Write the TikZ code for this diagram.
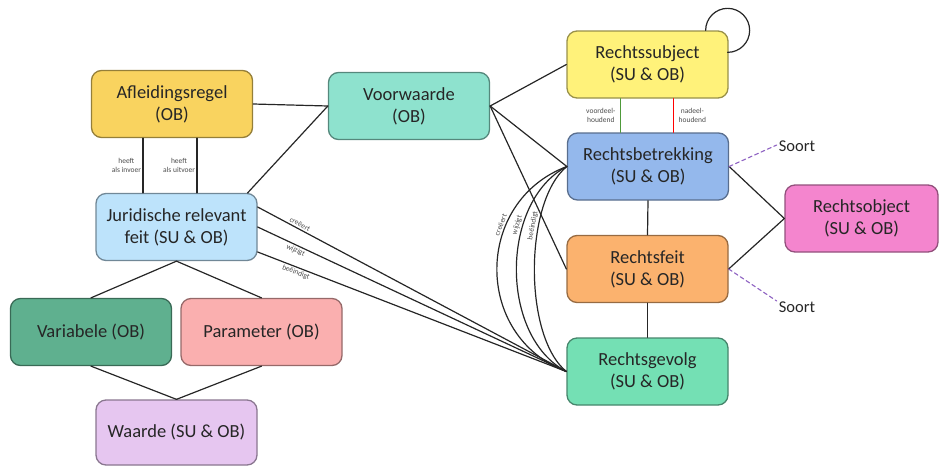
\documentclass[tikz,border=0pt]{standalone}
\usepackage{fontspec}
\setmainfont{Carlito}
\definecolor{oranjegeel}{HTML}{F9D35F}
\definecolor{turkoois}{HTML}{8EE2CE}
\definecolor{lichtblauw}{HTML}{BDE3FB}
\definecolor{donkergroen}{HTML}{5FB08F}
\definecolor{zalm}{HTML}{FAAFAF}
\definecolor{lila}{HTML}{E6C6F0}
\definecolor{geel}{HTML}{FFF27A}
\definecolor{blauw}{HTML}{94B8EC}
\definecolor{oranje}{HTML}{FBB26E}
\definecolor{mint}{HTML}{74E0B4}
\definecolor{roze}{HTML}{F485CE}
\definecolor{paars}{HTML}{8E62C2}
\definecolor{voordeel}{RGB}{78,154,58}
\tikzset{
	blok/.style={draw=#1!60!black, fill=#1, line width=1.3pt, rounded corners=10pt, minimum width=161pt, minimum height=67pt, inner sep=0pt, align=center, text=black!85},
	klein/.style={font=\fontsize{7.5}{9}\selectfont, text=black!70, align=center, inner sep=1.5pt},
	lijn/.style={line width=1.2pt, draw=black!85},
	soortlijn/.style={line width=1.1pt, draw=paars, dash pattern=on 4pt off 3pt}
}
\begin{document}
\begin{tikzpicture}[x=1pt, y=-1pt, line join=round, line cap=round, font=\fontsize{18.5}{22}\selectfont]
	\useasboundingbox (0,0) rectangle (939,466);
	\path
	(172,104) coordinate (A)
	(409,106) coordinate (V)
	(176.5,227) coordinate (J)
	(91,332) coordinate (Va)
	(261.5,332) coordinate (P)
	(176.5,432.5) coordinate (W)
	(647.5,64.5) coordinate (S)
	(648,166.5) coordinate (B)
	(647.5,269) coordinate (F)
	(647.5,371.5) coordinate (G)
	(861.5,218.5) coordinate (O)
	;
	\node[blok=oranjegeel] (ar) at (A) {Afleidingsregel\\(OB)};
	\node[blok=turkoois] (vw) at (V) {Voorwaarde\\(OB)};
	\node[blok=lichtblauw] (jr) at (J) {Juridische relevant\\feit (SU \& OB)};
	\node[blok=donkergroen] (var) at (Va) {Variabele (OB)};
	\node[blok=zalm] (par) at (P) {Parameter (OB)};
	\node[blok=lila, minimum height=65pt] (wa) at (W) {Waarde (SU \& OB)};
	\node[blok=geel] (rs) at (S) {Rechtssubject\\(SU \& OB)};
	\node[blok=blauw] (rb) at (B) {Rechtsbetrekking\\(SU \& OB)};
	\node[blok=oranje] (rf) at (F) {Rechtsfeit\\(SU \& OB)};
	\node[blok=mint] (rg) at (G) {Rechtsgevolg\\(SU \& OB)};
	\node[blok=roze, minimum width=153pt] (ro) at (O) {Rechtsobject\\(SU \& OB)};
	\node[font=\fontsize{16.5}{20}\selectfont, text=black!85, inner sep=2pt] (s1) at (797,146) {Soort};
	\node[font=\fontsize{16.5}{20}\selectfont, text=black!85, inner sep=2pt] (s2) at (797,307) {Soort};
	\draw[lijn] ([xshift=-23pt]rs.north east) arc[start angle=180, end angle=-90, radius=22pt];
	\draw[lijn] (ar.east) -- (vw.west);
	\draw[lijn] ([xshift=-10pt]jr.north east) -- (vw.west);
	\draw[lijn] ([xshift=-29pt]ar.south) -- node[klein, left]{heeft\\als invoer} ([xshift=-29pt]ar.south |- jr.north);
	\draw[lijn] ([xshift=25pt]ar.south) -- node[klein, left]{heeft\\als uitvoer} ([xshift=25pt]ar.south |- jr.north);
	\foreach \n in {rs,rb,rf} \draw[lijn] (vw.east) -- (\n.west);
	\foreach \dy/\lab/\kant in {20/creëert/above, 0/wijzigt/below, -25/beëindigt/below}
		\draw[lijn] ([yshift=\dy pt]jr.east) -- node[klein, sloped, pos=0.13, \kant]{\lab} (rg.west);
	\foreach \cx/\lab in {-93/creëert, -67/wijzigt, -43/beëindigt}
		\draw[lijn] (rb.west) .. controls +(\cx,35) and +(\cx,-35) .. node[klein, sloped, pos=0.33, above]{\lab} (rg.west);
	\draw[line width=1.2pt, voordeel] ([xshift=-27pt]rs.south) -- node[klein, left=3pt]{voordeel-\\houdend} ([xshift=-27pt]rs.south |- rb.north);
	\draw[line width=1.4pt, red] ([xshift=26pt]rs.south) -- node[klein, right=3pt]{nadeel-\\houdend} ([xshift=26pt]rs.south |- rb.north);
	\draw[lijn] (rb.south) -- (rf.north);
	\draw[lijn] (rf.south) -- (rg.north);
	\draw[lijn] (rb.east) -- (ro.west);
	\draw[lijn] (rf.east) -- (ro.west);
	\draw[soortlijn] (rb.east) -- ([yshift=1pt]s1.west);
	\draw[soortlijn] (rf.east) -- ([yshift=6pt]s2.west);
	\foreach \n in {var,par} {
		\draw[lijn] (jr.south) -- (\n.north);
		\draw[lijn] (\n.south) -- (wa.north);
	}
\end{tikzpicture}
\end{document}
